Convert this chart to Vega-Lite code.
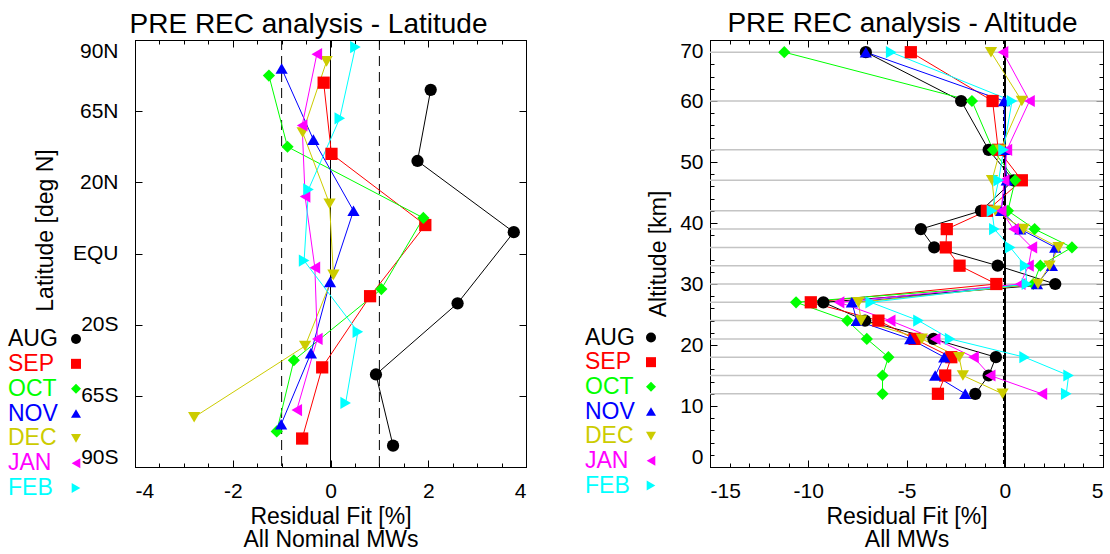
{
  "$schema": "https://vega.github.io/schema/vega-lite/v6.json",
  "autosize": {"type": "pad"},
  "padding": {"left": 8, "top": 9, "right": 0, "bottom": 0},
  "background": "white",
  "datasets": {
    "months": [
      {"month": "AUG"}, {"month": "SEP"}, {"month": "OCT"}, {"month": "NOV"}, {"month": "DEC"}, {"month": "JAN"}, {"month": "FEB"}
    ],
    "lat": [
      {"month": "AUG", "pos": 5.3, "fit": 2.05}, {"month": "AUG", "pos": 4.3, "fit": 1.78}, {"month": "AUG", "pos": 3.3, "fit": 3.75},
      {"month": "AUG", "pos": 2.3, "fit": 2.60}, {"month": "AUG", "pos": 1.3, "fit": 0.93}, {"month": "AUG", "pos": 0.3, "fit": 1.28},
      {"month": "SEP", "pos": 5.4, "fit": -0.14}, {"month": "SEP", "pos": 4.4, "fit": 0.02}, {"month": "SEP", "pos": 3.4, "fit": 1.94},
      {"month": "SEP", "pos": 2.4, "fit": 0.81}, {"month": "SEP", "pos": 1.4, "fit": -0.17}, {"month": "SEP", "pos": 0.4, "fit": -0.58},
      {"month": "OCT", "pos": 5.5, "fit": -1.26}, {"month": "OCT", "pos": 4.5, "fit": -0.88}, {"month": "OCT", "pos": 3.5, "fit": 1.90},
      {"month": "OCT", "pos": 2.5, "fit": 1.04}, {"month": "OCT", "pos": 1.5, "fit": -0.75}, {"month": "OCT", "pos": 0.5, "fit": -1.10},
      {"month": "NOV", "pos": 5.6, "fit": -1.00}, {"month": "NOV", "pos": 4.6, "fit": -0.35}, {"month": "NOV", "pos": 3.6, "fit": 0.47},
      {"month": "NOV", "pos": 2.6, "fit": -0.01}, {"month": "NOV", "pos": 1.6, "fit": -0.40}, {"month": "NOV", "pos": 0.6, "fit": -1.01},
      {"month": "DEC", "pos": 5.7, "fit": -0.08}, {"month": "DEC", "pos": 4.7, "fit": -0.57}, {"month": "DEC", "pos": 3.7, "fit": -0.02},
      {"month": "DEC", "pos": 2.7, "fit": 0.06}, {"month": "DEC", "pos": 1.7, "fit": -0.52}, {"month": "DEC", "pos": 0.7, "fit": -2.79},
      {"month": "JAN", "pos": 5.8, "fit": -0.28}, {"month": "JAN", "pos": 4.8, "fit": -0.58}, {"month": "JAN", "pos": 3.8, "fit": -0.52},
      {"month": "JAN", "pos": 2.8, "fit": -0.32}, {"month": "JAN", "pos": 1.8, "fit": -0.27}, {"month": "JAN", "pos": 0.8, "fit": -0.69},
      {"month": "FEB", "pos": 5.9, "fit": 0.51}, {"month": "FEB", "pos": 4.9, "fit": 0.19}, {"month": "FEB", "pos": 3.9, "fit": -0.45},
      {"month": "FEB", "pos": 2.9, "fit": -0.54}, {"month": "FEB", "pos": 1.9, "fit": 0.56}, {"month": "FEB", "pos": 0.9, "fit": 0.31}
    ],
    "alt": [
      {"month": "AUG", "alt": 68, "fit": -7.07}, {"month": "AUG", "alt": 60, "fit": -2.22}, {"month": "AUG", "alt": 52, "fit": -0.82},
      {"month": "AUG", "alt": 47, "fit": 0.45}, {"month": "AUG", "alt": 42, "fit": -1.21}, {"month": "AUG", "alt": 39, "fit": -4.27},
      {"month": "AUG", "alt": 36, "fit": -3.59}, {"month": "AUG", "alt": 33, "fit": -0.36}, {"month": "AUG", "alt": 30, "fit": 2.57},
      {"month": "AUG", "alt": 27, "fit": -9.23}, {"month": "AUG", "alt": 24, "fit": -7.11}, {"month": "AUG", "alt": 21, "fit": -3.63},
      {"month": "AUG", "alt": 18, "fit": -0.45}, {"month": "AUG", "alt": 15, "fit": -0.82}, {"month": "AUG", "alt": 12, "fit": -1.50},
      {"month": "SEP", "alt": 68, "fit": -4.78}, {"month": "SEP", "alt": 60, "fit": -0.62}, {"month": "SEP", "alt": 52, "fit": -0.33},
      {"month": "SEP", "alt": 47, "fit": 0.87}, {"month": "SEP", "alt": 42, "fit": -0.91}, {"month": "SEP", "alt": 39, "fit": -2.95},
      {"month": "SEP", "alt": 36, "fit": -3.00}, {"month": "SEP", "alt": 33, "fit": -2.30}, {"month": "SEP", "alt": 30, "fit": -0.43},
      {"month": "SEP", "alt": 27, "fit": -9.87}, {"month": "SEP", "alt": 24, "fit": -6.43}, {"month": "SEP", "alt": 21, "fit": -4.59},
      {"month": "SEP", "alt": 18, "fit": -2.72}, {"month": "SEP", "alt": 15, "fit": -3.03}, {"month": "SEP", "alt": 12, "fit": -3.40},
      {"month": "OCT", "alt": 68, "fit": -11.22}, {"month": "OCT", "alt": 60, "fit": -1.67}, {"month": "OCT", "alt": 52, "fit": -0.60},
      {"month": "OCT", "alt": 47, "fit": 0.53}, {"month": "OCT", "alt": 42, "fit": 0.16}, {"month": "OCT", "alt": 39, "fit": 1.52},
      {"month": "OCT", "alt": 36, "fit": 3.42}, {"month": "OCT", "alt": 33, "fit": 1.81}, {"month": "OCT", "alt": 30, "fit": 1.45},
      {"month": "OCT", "alt": 27, "fit": -10.62}, {"month": "OCT", "alt": 24, "fit": -8.01}, {"month": "OCT", "alt": 21, "fit": -7.02},
      {"month": "OCT", "alt": 18, "fit": -5.92}, {"month": "OCT", "alt": 15, "fit": -6.22}, {"month": "OCT", "alt": 12, "fit": -6.22},
      {"month": "NOV", "alt": 68, "fit": -7.07}, {"month": "NOV", "alt": 60, "fit": -0.03}, {"month": "NOV", "alt": 52, "fit": 0.00},
      {"month": "NOV", "alt": 47, "fit": 0.10}, {"month": "NOV", "alt": 42, "fit": -0.20}, {"month": "NOV", "alt": 39, "fit": 0.79},
      {"month": "NOV", "alt": 36, "fit": 2.57}, {"month": "NOV", "alt": 33, "fit": 2.40}, {"month": "NOV", "alt": 30, "fit": 1.64},
      {"month": "NOV", "alt": 27, "fit": -7.78}, {"month": "NOV", "alt": 24, "fit": -7.53}, {"month": "NOV", "alt": 21, "fit": -4.81},
      {"month": "NOV", "alt": 18, "fit": -3.08}, {"month": "NOV", "alt": 15, "fit": -3.54}, {"month": "NOV", "alt": 12, "fit": -2.01},
      {"month": "DEC", "alt": 68, "fit": -0.70}, {"month": "DEC", "alt": 60, "fit": 0.87}, {"month": "DEC", "alt": 52, "fit": -0.23},
      {"month": "DEC", "alt": 47, "fit": -0.65}, {"month": "DEC", "alt": 42, "fit": -0.48}, {"month": "DEC", "alt": 39, "fit": 0.96},
      {"month": "DEC", "alt": 36, "fit": 2.74}, {"month": "DEC", "alt": 33, "fit": 2.28}, {"month": "DEC", "alt": 30, "fit": 1.69},
      {"month": "DEC", "alt": 27, "fit": -7.45}, {"month": "DEC", "alt": 24, "fit": -7.31}, {"month": "DEC", "alt": 21, "fit": -4.22},
      {"month": "DEC", "alt": 18, "fit": -2.32}, {"month": "DEC", "alt": 15, "fit": -2.13}, {"month": "DEC", "alt": 12, "fit": -0.11},
      {"month": "JAN", "alt": 68, "fit": -0.09}, {"month": "JAN", "alt": 60, "fit": 1.26}, {"month": "JAN", "alt": 52, "fit": 0.11},
      {"month": "JAN", "alt": 47, "fit": -0.03}, {"month": "JAN", "alt": 42, "fit": -0.18}, {"month": "JAN", "alt": 39, "fit": 0.45},
      {"month": "JAN", "alt": 36, "fit": 1.38}, {"month": "JAN", "alt": 33, "fit": 1.21}, {"month": "JAN", "alt": 30, "fit": 0.79},
      {"month": "JAN", "alt": 27, "fit": -8.43}, {"month": "JAN", "alt": 24, "fit": -5.83}, {"month": "JAN", "alt": 21, "fit": -3.54},
      {"month": "JAN", "alt": 18, "fit": -1.59}, {"month": "JAN", "alt": 15, "fit": -0.74}, {"month": "JAN", "alt": 12, "fit": 1.89},
      {"month": "FEB", "alt": 68, "fit": -5.78}, {"month": "FEB", "alt": 60, "fit": 0.37}, {"month": "FEB", "alt": 52, "fit": -0.06},
      {"month": "FEB", "alt": 47, "fit": -0.31}, {"month": "FEB", "alt": 42, "fit": -0.65}, {"month": "FEB", "alt": 39, "fit": -0.53},
      {"month": "FEB", "alt": 36, "fit": 0.28}, {"month": "FEB", "alt": 33, "fit": 1.04}, {"month": "FEB", "alt": 30, "fit": 1.13},
      {"month": "FEB", "alt": 27, "fit": -6.82}, {"month": "FEB", "alt": 24, "fit": -4.39}, {"month": "FEB", "alt": 21, "fit": -2.78},
      {"month": "FEB", "alt": 18, "fit": 1.01}, {"month": "FEB", "alt": 15, "fit": 3.25}, {"month": "FEB", "alt": 12, "fit": 3.13}
    ],
    "levels": [
      {"alt": 12}, {"alt": 15}, {"alt": 18}, {"alt": 21}, {"alt": 24}, {"alt": 27}, {"alt": 30}, {"alt": 33},
      {"alt": 36}, {"alt": 39}, {"alt": 42}, {"alt": 47}, {"alt": 52}, {"alt": 60}, {"alt": 68}
    ],
    "limits": [{"v": -1}, {"v": 1}]
  },
  "hconcat": [
    {
      "width": 68,
      "height": 447,
      "view": {"stroke": null},
      "data": {"name": "months"},
      "encoding": {
        "y": {"field": "month", "type": "nominal", "axis": null,
          "scale": {"type": "point", "domain": ["AUG", "SEP", "OCT", "NOV", "DEC", "JAN", "FEB"], "range": [299, 448], "padding": 0}},
        "color": {"field": "month", "type": "nominal", "legend": null,
          "scale": {"domain": ["AUG", "SEP", "OCT", "NOV", "DEC", "JAN", "FEB"], "range": ["#000000", "#ff0000", "#00ff00", "#0000ff", "#cccc00", "#ff00ff", "#00ffff"]}}
      },
      "layer": [
        {
          "mark": {"type": "text", "align": "left", "baseline": "middle", "fontSize": 23, "font": "Liberation Sans"},
          "encoding": {
            "x": {"datum": "label", "type": "nominal", "axis": null, "scale": {"type": "point", "domain": ["label", "symbol"], "padding": 0}},
            "text": {"field": "month"}
          }
        },
        {
          "mark": {"type": "point", "filled": true, "opacity": 1, "size": 100, "strokeWidth": 0},
          "encoding": {
            "x": {"datum": "symbol", "type": "nominal", "axis": null, "scale": {"type": "point", "domain": ["label", "symbol"], "padding": 0}},
            "shape": {"field": "month", "type": "nominal", "legend": null,
              "scale": {"domain": ["AUG", "SEP", "OCT", "NOV", "DEC", "JAN", "FEB"], "range": ["circle", "square", "diamond", "triangle-up", "triangle-down", "triangle-left", "triangle-right"]}}
          }
        }
      ]
    },
    {
      "width": 391,
      "height": 427,
      "data": {"name": "lat"},
      "title": {"text": "PRE REC analysis - Latitude", "anchor": "middle", "frame": "group", "dx": -22, "baseline": "alphabetic", "offset": -21, "fontSize": 28, "fontWeight": "normal", "font": "Liberation Sans", "color": "black"},
      "layer": [
        {
          "data": {"name": "limits"},
          "mark": {"type": "rule", "color": "black", "strokeWidth": 1, "strokeDash": [10, 6]},
          "encoding": {"x": {"field": "v", "type": "quantitative", "axis": null, "scale": {"domain": [-4, 4], "nice": false, "zero": false}}}
        },
        {
          "mark": {"type": "rule", "color": "black", "strokeWidth": 1},
          "encoding": {"x": {"datum": 0, "type": "quantitative", "axis": null, "scale": {"domain": [-4, 4], "nice": false, "zero": false}}}
        },
        {
          "mark": {"type": "line", "strokeWidth": 1},
          "encoding": {
            "x": {"field": "fit", "type": "quantitative", "axis": null, "scale": {"domain": [-4, 4], "nice": false, "zero": false}},
            "y": {"field": "pos", "type": "quantitative", "axis": null, "scale": {"domain": [0, 6], "nice": false, "zero": false}},
            "order": {"field": "pos"},
            "stroke": {
              "field": "month", "type": "nominal", "legend": null,
              "scale": {"domain": ["AUG", "SEP", "OCT", "NOV", "DEC", "JAN", "FEB"], "range": ["#000000", "#ff0000", "#00ff00", "#0000ff", "#cccc00", "#ff00ff", "#00ffff"]}
            }
          }
        },
        {
          "mark": {"type": "point", "filled": true, "opacity": 1, "size": 150, "strokeWidth": 0},
          "encoding": {
            "x": {
              "field": "fit", "type": "quantitative",
              "scale": {"domain": [-4, 4], "nice": false, "zero": false},
              "axis": {
                "orient": "bottom",
                "title": ["Residual Fit [%]", "All Nominal MWs"],
                "values": [-4, -2, 0, 2, 4],
                "labelExpr": "'' + datum.value",
                "tickSize": -7,
                "labelPadding": 20,
                "titleY": 38,
                "titleLineHeight": 23
              }
            },
            "y": {
              "field": "pos", "type": "quantitative",
              "scale": {"domain": [0, 6], "nice": false, "zero": false},
              "axis": {
                "orient": "left",
                "title": "Latitude [deg N]",
                "values": [0, 1, 2, 3, 4, 5, 6],
                "labelExpr": "['90S', '65S', '20S', 'EQU', '20N', '65N', '90N'][datum.value]",
                "labelFlush": true,
                "tickSize": -7,
                "labelPadding": 24,
                "titleX": -78,
                "titleY": 190
              }
            },
            "color": {"field": "month", "type": "nominal", "legend": null,
              "scale": {"domain": ["AUG", "SEP", "OCT", "NOV", "DEC", "JAN", "FEB"], "range": ["#000000", "#ff0000", "#00ff00", "#0000ff", "#cccc00", "#ff00ff", "#00ffff"]}},
            "shape": {"field": "month", "type": "nominal", "legend": null,
              "scale": {"domain": ["AUG", "SEP", "OCT", "NOV", "DEC", "JAN", "FEB"], "range": ["circle", "square", "diamond", "triangle-up", "triangle-down", "triangle-left", "triangle-right"]}}
          }
        },
        {
          "mark": {"type": "point", "opacity": 0},
          "encoding": {
            "x": {
              "field": "fit", "type": "quantitative",
              "scale": {"domain": [-4, 4], "nice": false, "zero": false},
              "axis": {"orient": "top", "title": null, "labels": false,
                "values": [-4, -3.5, -3, -2.5, -2, -1.5, -1, -0.5, 0, 0.5, 1, 1.5, 2, 2.5, 3, 3.5, 4],
                "tickSize": {"condition": {"test": "datum.value % 2 === 0", "value": -7}, "value": -4}}
            },
            "y": {
              "field": "pos", "type": "quantitative",
              "scale": {"domain": [0, 6], "nice": false, "zero": false},
              "axis": {"orient": "right", "title": null, "labels": false, "values": [0, 1, 2, 3, 4, 5, 6], "tickSize": -7}
            }
          }
        },
        {
          "mark": {"type": "point", "opacity": 0},
          "encoding": {
            "x": {
              "field": "fit", "type": "quantitative",
              "scale": {"domain": [-4, 4], "nice": false, "zero": false},
              "axis": {"orient": "bottom", "title": null, "labels": false,
                "values": [-3.5, -3, -2.5, -1.5, -1, -0.5, 0.5, 1, 1.5, 2.5, 3, 3.5],
                "tickSize": -4}
            }
          }
        }
      ],
      "resolve": {"axis": {"x": "independent", "y": "independent"}}
    },
    {
      "width": 66,
      "height": 447,
      "view": {"stroke": null},
      "data": {"name": "months"},
      "encoding": {
        "y": {"field": "month", "type": "nominal", "axis": null,
          "scale": {"type": "point", "domain": ["AUG", "SEP", "OCT", "NOV", "DEC", "JAN", "FEB"], "range": [297.5, 445.5], "padding": 0}},
        "color": {"field": "month", "type": "nominal", "legend": null,
          "scale": {"domain": ["AUG", "SEP", "OCT", "NOV", "DEC", "JAN", "FEB"], "range": ["#000000", "#ff0000", "#00ff00", "#0000ff", "#cccc00", "#ff00ff", "#00ffff"]}}
      },
      "layer": [
        {
          "mark": {"type": "text", "align": "left", "baseline": "middle", "fontSize": 23, "font": "Liberation Sans"},
          "encoding": {
            "x": {"datum": "label", "type": "nominal", "axis": null, "scale": {"type": "point", "domain": ["label", "symbol"], "padding": 0}},
            "text": {"field": "month"}
          }
        },
        {
          "mark": {"type": "point", "filled": true, "opacity": 1, "size": 100, "strokeWidth": 0},
          "encoding": {
            "x": {"datum": "symbol", "type": "nominal", "axis": null, "scale": {"type": "point", "domain": ["label", "symbol"], "padding": 0}},
            "shape": {"field": "month", "type": "nominal", "legend": null,
              "scale": {"domain": ["AUG", "SEP", "OCT", "NOV", "DEC", "JAN", "FEB"], "range": ["circle", "square", "diamond", "triangle-up", "triangle-down", "triangle-left", "triangle-right"]}}
          }
        }
      ]
    },
    {
      "width": 393,
      "height": 427,
      "data": {"name": "alt"},
      "title": {"text": "PRE REC analysis - Altitude", "anchor": "middle", "frame": "group", "dx": -4, "baseline": "alphabetic", "offset": -21, "fontSize": 28, "fontWeight": "normal", "font": "Liberation Sans", "color": "black"},
      "layer": [
        {
          "data": {"name": "levels"},
          "mark": {"type": "rule", "color": "#c4c4c4", "strokeWidth": 1.5},
          "encoding": {"y": {"field": "alt", "type": "quantitative", "axis": null, "scale": {"domain": [0, 70], "nice": false, "zero": false}}}
        },
        {
          "mark": {"type": "rule", "color": "black", "strokeWidth": 1},
          "encoding": {"x": {"datum": 0, "type": "quantitative", "axis": null, "scale": {"domain": [-15, 5], "nice": false, "zero": false}}}
        },
        {
          "mark": {"type": "rule", "color": "black", "strokeWidth": 2, "strokeDash": [4, 3]},
          "encoding": {"x": {"datum": 0, "type": "quantitative", "axis": null, "scale": {"domain": [-15, 5], "nice": false, "zero": false}}}
        },
        {
          "mark": {"type": "line", "strokeWidth": 1},
          "encoding": {
            "x": {"field": "fit", "type": "quantitative", "axis": null, "scale": {"domain": [-15, 5], "nice": false, "zero": false}},
            "y": {"field": "alt", "type": "quantitative", "axis": null, "scale": {"domain": [0, 70], "nice": false, "zero": false}},
            "order": {"field": "alt"},
            "stroke": {
              "field": "month", "type": "nominal", "legend": null,
              "scale": {"domain": ["AUG", "SEP", "OCT", "NOV", "DEC", "JAN", "FEB"], "range": ["#000000", "#ff0000", "#00ff00", "#0000ff", "#cccc00", "#ff00ff", "#00ffff"]}
            }
          }
        },
        {
          "mark": {"type": "point", "filled": true, "opacity": 1, "size": 150, "strokeWidth": 0},
          "encoding": {
            "x": {
              "field": "fit", "type": "quantitative",
              "scale": {"domain": [-15, 5], "nice": false, "zero": false},
              "axis": {
                "orient": "bottom",
                "title": ["Residual Fit [%]", "All MWs"],
                "values": [-15, -10, -5, 0, 5],
                "labelExpr": "'' + datum.value",
                "tickSize": -7,
                "labelPadding": 20,
                "titleY": 38,
                "titleLineHeight": 23
              }
            },
            "y": {
              "field": "alt", "type": "quantitative",
              "scale": {"domain": [0, 70], "nice": false, "zero": false},
              "axis": {
                "orient": "left",
                "title": "Altitude [km]",
                "values": [0, 10, 20, 30, 40, 50, 60, 70],
                "labelExpr": "'' + datum.value",
                "labelFlush": true,
                "tickSize": -7,
                "labelPadding": 14,
                "titleX": -40
              }
            },
            "color": {"field": "month", "type": "nominal", "legend": null,
              "scale": {"domain": ["AUG", "SEP", "OCT", "NOV", "DEC", "JAN", "FEB"], "range": ["#000000", "#ff0000", "#00ff00", "#0000ff", "#cccc00", "#ff00ff", "#00ffff"]}},
            "shape": {"field": "month", "type": "nominal", "legend": null,
              "scale": {"domain": ["AUG", "SEP", "OCT", "NOV", "DEC", "JAN", "FEB"], "range": ["circle", "square", "diamond", "triangle-up", "triangle-down", "triangle-left", "triangle-right"]}}
          }
        },
        {
          "mark": {"type": "point", "opacity": 0},
          "encoding": {
            "x": {
              "field": "fit", "type": "quantitative",
              "scale": {"domain": [-15, 5], "nice": false, "zero": false},
              "axis": {"orient": "top", "title": null, "labels": false,
                "values": [-15, -14, -13, -12, -11, -10, -9, -8, -7, -6, -5, -4, -3, -2, -1, 0, 1, 2, 3, 4, 5],
                "tickSize": {"condition": {"test": "datum.value % 5 === 0", "value": -7}, "value": -4}}
            },
            "y": {
              "field": "alt", "type": "quantitative",
              "scale": {"domain": [0, 70], "nice": false, "zero": false},
              "axis": {"orient": "right", "title": null, "labels": false,
                "values": [0, 2, 4, 6, 8, 10, 12, 14, 16, 18, 20, 22, 24, 26, 28, 30, 32, 34, 36, 38, 40, 42, 44, 46, 48, 50, 52, 54, 56, 58, 60, 62, 64, 66, 68, 70],
                "tickSize": {"condition": {"test": "datum.value % 10 === 0", "value": -7}, "value": -4}}
            }
          }
        },
        {
          "mark": {"type": "point", "opacity": 0},
          "encoding": {
            "x": {
              "field": "fit", "type": "quantitative",
              "scale": {"domain": [-15, 5], "nice": false, "zero": false},
              "axis": {"orient": "bottom", "title": null, "labels": false,
                "values": [-14, -13, -12, -11, -9, -8, -7, -6, -4, -3, -2, -1, 1, 2, 3, 4],
                "tickSize": -4}
            },
            "y": {
              "field": "alt", "type": "quantitative",
              "scale": {"domain": [0, 70], "nice": false, "zero": false},
              "axis": {"orient": "left", "title": null, "labels": false,
                "values": [2, 4, 6, 8, 12, 14, 16, 18, 22, 24, 26, 28, 32, 34, 36, 38, 42, 44, 46, 48, 52, 54, 56, 58, 62, 64, 66, 68],
                "tickSize": -4}
            }
          }
        }
      ],
      "resolve": {"axis": {"x": "independent", "y": "independent"}}
    }
  ],
  "spacing": 59,
  "bounds": "flush",
  "config": {
    "font": "Liberation Sans",
    "view": {"stroke": "black", "strokeWidth": 1},
    "axis": {
      "domainColor": "black", "domainWidth": 1, "tickColor": "black", "tickWidth": 1,
      "labelColor": "black", "titleColor": "black",
      "labelFont": "Liberation Sans", "titleFont": "Liberation Sans",
      "labelFontSize": 21, "titleFontSize": 23, "titleFontWeight": "normal",
      "grid": false
    }
  }
}
